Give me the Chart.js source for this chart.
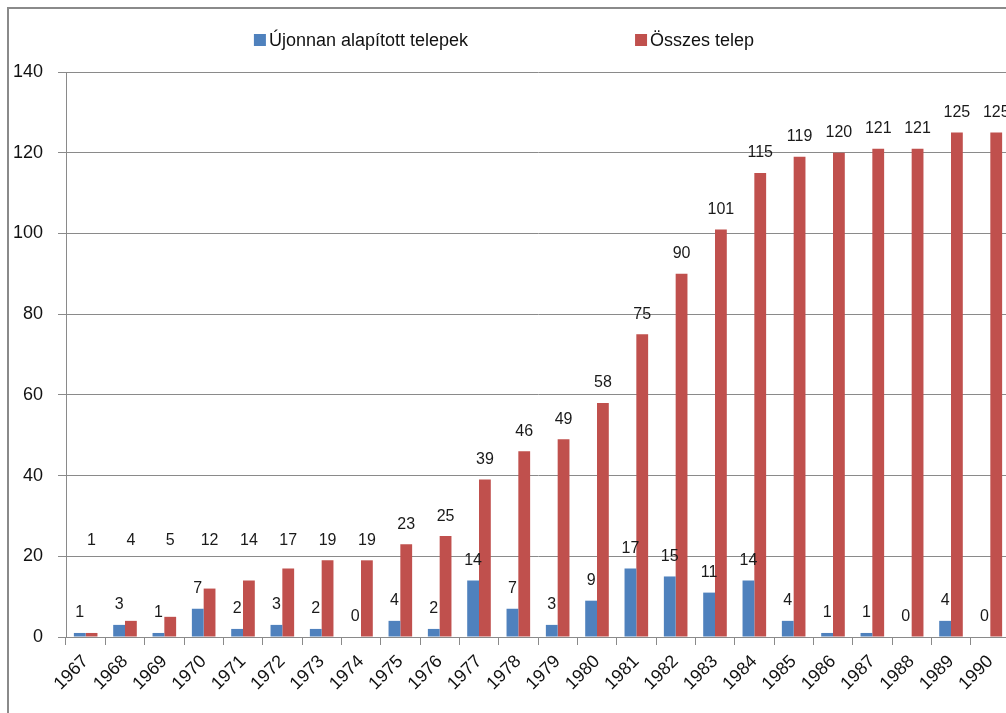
<!DOCTYPE html>
<html>
<head>
<meta charset="utf-8">
<script src="https://cdn.jsdelivr.net/npm/chart.js@4/dist/chart.umd.min.js"></script>
<style>
  html, body { margin: 0; padding: 0; background: #fff; overflow: hidden; width: 1006px; height: 713px; }
  #wrap { position: absolute; left: 0; top: 0; width: 1016px; height: 713px; }
  #frame { position: absolute; left: 7px; top: 7px; width: 1200px; height: 900px;
           border-left: 2px solid #8a8a8a; border-top: 2px solid #8a8a8a; pointer-events: none; }
</style>
</head>
<body>
<div id="wrap"><canvas id="c" width="1016" height="713"></canvas></div>
<div id="frame"></div>
<script>
const years = ['1967','1968','1969','1970','1971','1972','1973','1974','1975','1976','1977','1978',
               '1979','1980','1981','1982','1983','1984','1985','1986','1987','1988','1989','1990'];
const newSettlements   = [1,3,1,7,2,3,2,0,4,2,14,7,3,9,17,15,11,14,4,1,1,0,4,0];
const totalSettlements = [1,4,5,12,14,17,19,19,23,25,39,46,49,58,75,90,101,115,119,120,121,121,125,125];
const yTickValues = [0,20,40,60,80,100,120,140];
const seriesNames = ['Újonnan alapított telepek', 'Összes telep'];
const seriesColors = ['#4F81BD', '#C0504D'];
// label of the second series never sits lower than this value's level (as in the original)
const labelFloors = [0, 19];

const FONT = '"Liberation Sans", Arial, sans-serif';
const GRID = '#8a8a8a';

const valueLabels = {
  id: 'valueLabels',
  afterDatasetsDraw(chart) {
    const ctx = chart.ctx;
    const yScale = chart.scales.y;
    ctx.save();
    ctx.font = '16px ' + FONT;
    ctx.fillStyle = '#1a1a1a';
    ctx.textAlign = 'center';
    ctx.textBaseline = 'middle';
    chart.data.datasets.forEach((ds, di) => {
      const meta = chart.getDatasetMeta(di);
      meta.data.forEach((bar, i) => {
        const v = ds.data[i];
        const y = yScale.getPixelForValue(Math.max(v, labelFloors[di])) - 20;
        ctx.fillText(String(v), bar.x, y);
      });
    });
    ctx.restore();
  }
};

const customLegend = {
  id: 'customLegend',
  afterDraw(chart) {
    const ctx = chart.ctx;
    ctx.save();
    ctx.font = '18px ' + FONT;
    ctx.textBaseline = 'middle';
    ctx.textAlign = 'left';
    const box = 12, gapBox = 3, gapItems = 167, cy = 40, center = 504;
    const widths = seriesNames.map(n => box + gapBox + ctx.measureText(n).width);
    let x = center - (widths[0] + gapItems + widths[1]) / 2;
    seriesNames.forEach((n, i) => {
      ctx.fillStyle = seriesColors[i];
      ctx.fillRect(x, cy - box / 2, box, box);
      ctx.fillStyle = '#111';
      ctx.fillText(n, x + box + gapBox, cy + 1);
      x += widths[i] + gapItems;
    });
    ctx.restore();
  }
};

new Chart(document.getElementById('c'), {
  type: 'bar',
  data: {
    labels: years,
    datasets: [
      { label: seriesNames[0], data: newSettlements, backgroundColor: seriesColors[0],
        categoryPercentage: 0.6, barPercentage: 1.0 },
      { label: seriesNames[1], data: totalSettlements, backgroundColor: seriesColors[1],
        categoryPercentage: 0.6, barPercentage: 1.0 }
    ]
  },
  options: {
    responsive: false,
    animation: false,
    devicePixelRatio: 1,
    layout: { padding: { top: 72, right: 6, bottom: 0, left: 0 } },
    plugins: { legend: { display: false }, tooltip: { enabled: false } },
    scales: {
      x: {
        grid: { display: true, drawOnChartArea: false, drawTicks: true, tickLength: 8, color: GRID },
        border: { display: true, color: GRID },
        ticks: { autoSkip: false, minRotation: 45, maxRotation: 45, padding: 6,
                 color: '#111', font: { family: FONT, size: 18 } },
        afterFit(scale) { scale.height = 76; }
      },
      y: {
        min: 0, max: 140,
        afterBuildTicks(scale) { scale.ticks = yTickValues.map(v => ({ value: v })); },
        grid: { color: GRID, tickLength: 8, drawTicks: true },
        border: { display: true, color: GRID },
        ticks: { padding: 15, color: '#111', font: { family: FONT, size: 18 } },
        afterFit(scale) { scale.width = 66; }
      }
    }
  },
  plugins: [valueLabels, customLegend]
});
</script>
</body>
</html>
